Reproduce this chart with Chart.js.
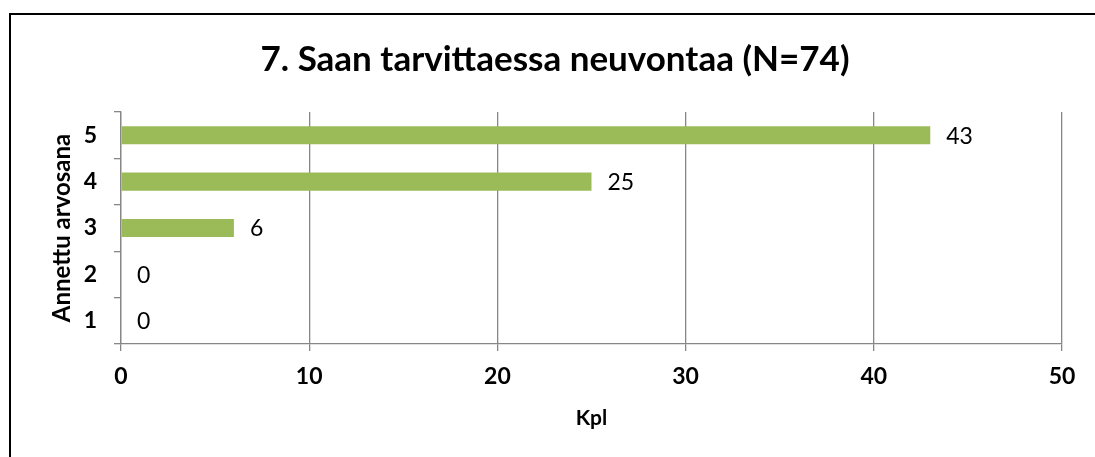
<!DOCTYPE html>
<html>
<head>
<meta charset="utf-8">
<script src="https://cdn.jsdelivr.net/npm/chart.js@4.4.1/dist/chart.umd.min.js"></script>
<style>
  html, body { margin: 0; padding: 0; background: #fff; }
  #wrap { width: 1095px; height: 457px; position: relative; }
</style>
</head>
<body>
<div id="wrap"><canvas id="c" width="1095" height="457"></canvas></div>
<script>
const categories = ['5', '4', '3', '2', '1'];
const values = [43, 25, 6, 0, 0];
const xTicks = [0, 10, 20, 30, 40, 50];
const titleText = '7. Saan tarvittaessa neuvontaa (N=74)';
const xTitle = 'Kpl';
const yTitle = 'Annettu arvosana';

const FONT = 'Lato, "Open Sans", sans-serif';
const GRID = '#878787';

const framePlugin = {
  id: 'frame',
  beforeDraw(chart) {
    const ctx = chart.ctx;
    ctx.save();
    ctx.fillStyle = '#fff';
    ctx.fillRect(0, 0, chart.width, chart.height);
    ctx.strokeStyle = '#000';
    ctx.lineWidth = 2;
    ctx.strokeRect(10, 14, 1200, 600);
    ctx.restore();
  }
};

const labelPlugin = {
  id: 'valueLabels',
  afterDatasetsDraw(chart) {
    const ctx = chart.ctx;
    const meta = chart.getDatasetMeta(0);
    ctx.save();
    ctx.font = '23px ' + FONT;
    ctx.fillStyle = '#000';
    ctx.textAlign = 'left';
    ctx.textBaseline = 'middle';
    meta.data.forEach((bar, i) => {
      ctx.fillText(String(values[i]), bar.x + 16, bar.y + 1);
    });
    ctx.restore();
  }
};

const LEFT_PAD = 48;

new Chart(document.getElementById('c'), {
  type: 'bar',
  data: {
    labels: categories,
    datasets: [{
      data: values,
      backgroundColor: '#9BBB59',
      borderWidth: 0,
      barPercentage: 0.39,
      categoryPercentage: 1.0
    }]
  },
  options: {
    indexAxis: 'y',
    responsive: false,
    animation: false,
    layout: { padding: { left: LEFT_PAD, right: 33, top: 0, bottom: 0 } },
    plugins: {
      legend: { display: false },
      tooltip: { enabled: false },
      title: {
        display: true,
        text: titleText,
        color: '#000',
        font: { family: FONT, size: 35, weight: 'bold', lineHeight: 1.2 },
        padding: { top: 39, bottom: 31 }
      }
    },
    scales: {
      x: {
        min: 0,
        max: 50,
        afterBuildTicks(scale) { scale.ticks = xTicks.map(v => ({ value: v })); },
        afterFit(scale) { scale.height = 457 - 344; },
        grid: { color: GRID, lineWidth: 1.3, tickLength: 7, drawTicks: true },
        border: { color: GRID, width: 1.3 },
        ticks: {
          color: '#000',
          font: { family: FONT, size: 23, weight: 'bold' },
          padding: 12
        },
        title: {
          display: true,
          text: xTitle,
          color: '#000',
          font: { family: FONT, size: 21, weight: 'bold' },
          padding: { top: 0, bottom: 26 }
        }
      },
      y: {
        afterFit(scale) { scale.width = 121 - LEFT_PAD; },
        grid: { display: true, drawOnChartArea: false, drawTicks: true, tickLength: 7, color: GRID, lineWidth: 1.3 },
        border: { color: GRID, width: 1.3 },
        ticks: {
          color: '#000',
          font: { family: FONT, size: 23, weight: 'bold' },
          padding: 17
        },
        title: {
          display: true,
          text: yTitle,
          color: '#000',
          font: { family: FONT, size: 24, weight: 'bold' },
          padding: { top: 62 - LEFT_PAD - 14, bottom: 0 }
        }
      }
    }
  },
  plugins: [framePlugin, labelPlugin]
});
</script>
</body>
</html>
